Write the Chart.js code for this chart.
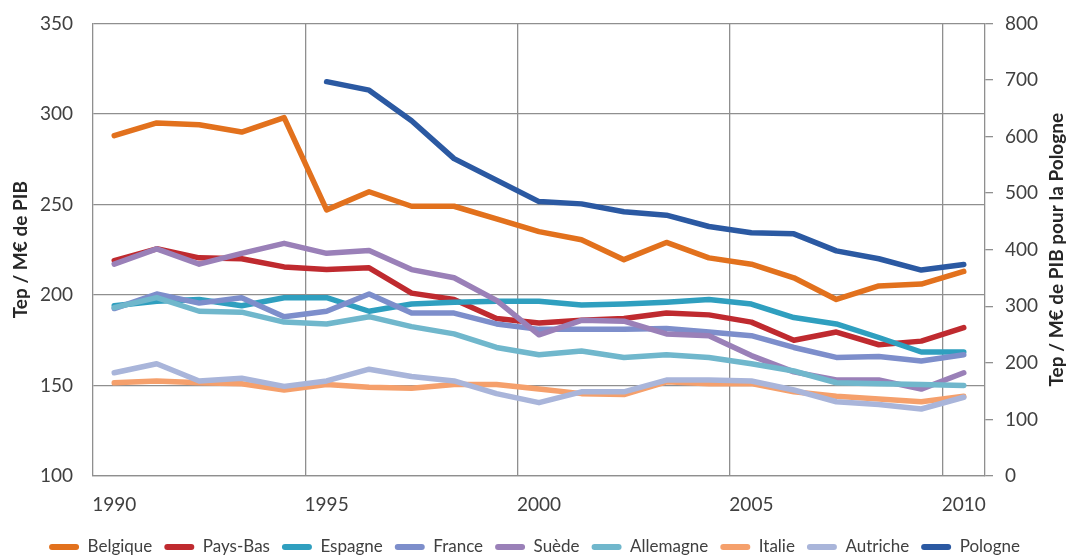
<!DOCTYPE html>
<html lang="fr">
<head>
<meta charset="UTF-8">
<title>Intensité énergétique</title>
<script src="https://cdn.jsdelivr.net/npm/chart.js@4"></script>
<style>
  body { margin: 0; background: #fff; }
  .chart-box { position: relative; width: 1069px; height: 555px; }
</style>
</head>
<body>
<div class="chart-box"><canvas id="intensityChart"></canvas></div>
<script>
const years = ['1990', '1991', '1992', '1993', '1994', '1995', '1996', '1997', '1998', '1999', '2000',
               '2001', '2002', '2003', '2004', '2005', '2006', '2007', '2008', '2009', '2010'];

const countries = ['Belgique', 'Pays-Bas', 'Espagne', 'France', 'Suède', 'Allemagne', 'Italie', 'Autriche', 'Pologne'];

// left axis (Tep / M€ de PIB)
const belgique  = [288, 295, 294, 290, 298, 247, 257, 249, 249, 242, 235, 230.5, 219.5, 229, 220.5, 217, 209.5, 197.5, 205, 206, 213];
const paysBas   = [219, 225.5, 220.5, 220, 215.5, 214, 215, 201, 197.5, 187, 184.5, 186, 187, 190, 189, 185, 175, 179.5, 172.5, 174.5, 182];
const espagne   = [194, 196.5, 197.5, 194, 198.5, 198.5, 191, 195, 196, 196.5, 196.5, 194.5, 195, 196, 197.5, 195, 187.5, 184, 176.5, 168.5, 168.5];
const france    = [192.5, 200.5, 195.5, 198.5, 188, 191, 200.5, 190, 190, 184, 181, 181, 181, 181.5, 179.5, 177.5, 171, 165.5, 166, 163.5, 167];
const suede     = [217, 225.5, 217, 223, 228.5, 223, 224.5, 214, 209.5, 197, 178, 186, 185.5, 178.5, 177.5, 166.5, 157.5, 153, 153, 148, 157];
const allemagne = [193, 198.5, 191, 190.5, 185, 184, 188, 182.5, 178.5, 171, 167, 169, 165.5, 167, 165.5, 162, 158, 151.5, 151, 150.5, 150];
const italie    = [151.5, 152.5, 151.5, 151, 147.5, 150.5, 149, 148.5, 150.5, 150.5, 148, 145.5, 145, 152, 151, 151, 146.5, 144, 142.5, 141, 144];
const autriche  = [157, 162, 152.5, 154, 149.5, 152.5, 159, 155, 152.5, 145.5, 140.5, 146.5, 146.5, 153, 153, 152.5, 147.5, 141, 139.5, 137, 143.5];
// right axis (Pologne)
const pologne   = [null, null, null, null, null, 697, 682, 628, 561, 523, 485, 481, 467, 461, 441, 430, 428, 398, 384, 364, 374];

const leftTicks = { min: 100, max: 350, step: 50 };
const rightTicks = { min: 0, max: 800, step: 100 };
const leftAxisTitle = 'Tep / M€ de PIB';
const rightAxisTitle = 'Tep / M€ de PIB pour la Pologne';

const colors = ['#e2711d', '#bf2a2f', '#2f9fbf', '#7d8ecb', '#9a80b8', '#70b7cc', '#f5a06c', '#a9b5da', '#2b59a2'];
const gridGray = '#8f8f8f';
const textGray = '#404040';
const titleColor = '#262626';

Chart.defaults.font.family = 'Lato, "Liberation Sans", sans-serif';

const allSeries = [belgique, paysBas, espagne, france, suede, allemagne, italie, autriche, pologne];

const datasets = allSeries.map((values, i) => ({
    label: countries[i],
    data: values,
    borderColor: colors[i],
    backgroundColor: colors[i],
    borderWidth: 5.5,
    borderJoinStyle: 'round',
    borderCapStyle: 'round',
    pointRadius: 0,
    pointHoverRadius: 0,
    tension: 0,
    yAxisID: countries[i] === 'Pologne' ? 'y1' : 'y',
    order: allSeries.length - 1 - i   // later series on top, like Excel
}));

// right axis title reads bottom to top in the original
const rightTitlePlugin = {
    id: 'rightTitle',
    afterDraw(chart) {
        const ctx = chart.ctx;
        const area = chart.chartArea;
        ctx.save();
        ctx.translate(1057, (area.top + area.bottom) / 2);
        ctx.rotate(-Math.PI / 2);
        ctx.font = 'bold 19px ' + Chart.defaults.font.family;
        ctx.fillStyle = titleColor;
        ctx.textAlign = 'center';
        ctx.textBaseline = 'middle';
        ctx.fillText(rightAxisTitle, 0, 0);
        ctx.restore();
    }
};

new Chart(document.getElementById('intensityChart'), {
    type: 'line',
    data: { labels: years, datasets: datasets },
    plugins: [rightTitlePlugin],
    options: {
        responsive: true,
        maintainAspectRatio: false,
        animation: false,
        layout: { padding: { top: 10, left: 0, right: 0, bottom: 0 } },
        plugins: {
            tooltip: { enabled: false },
            legend: {
                position: 'bottom',
                maxHeight: 28.5,
                labels: {
                    color: textGray,
                    font: { size: 17 },
                    boxWidth: 30,
                    boxHeight: 6,
                    padding: 12,
                    useBorderRadius: true,
                    borderRadius: 3,
                    sort: (a, b) => a.datasetIndex - b.datasetIndex,
                    generateLabels(chart) {
                        const items = Chart.defaults.plugins.legend.labels.generateLabels(chart);
                        items.forEach(item => {
                            item.fillStyle = item.strokeStyle;
                            item.lineWidth = 0;
                        });
                        return items;
                    }
                }
            }
        },
        scales: {
            x: {
                offset: true,
                grid: {
                    offset: true,
                    drawTicks: false,
                    lineWidth: 1.3,
                    color: ctx => (ctx.index > 0 && ctx.index % 5 === 0) ? gridGray : 'transparent'
                },
                border: { display: true, color: gridGray, width: 1.3 },
                ticks: {
                    autoSkip: false,
                    maxRotation: 0,
                    padding: 17,
                    color: textGray,
                    font: { size: 19 },
                    callback: (value, index) => index % 5 === 0 ? years[index] : ''
                },
                afterFit(scale) { scale.height = 50.5; }
            },
            y: {
                position: 'left',
                min: leftTicks.min,
                max: leftTicks.max,
                ticks: { stepSize: leftTicks.step, padding: 0, color: textGray, font: { size: 19 } },
                // invisible tick marks give the label gap without extra top padding
                grid: { color: gridGray, lineWidth: 1.3, drawTicks: true, tickLength: 20, tickColor: 'transparent' },
                border: { display: true, color: gridGray, width: 1.3 },
                title: {
                    display: true,
                    text: leftAxisTitle,
                    color: titleColor,
                    font: { size: 19, weight: 'bold' },
                    padding: { top: 9, bottom: 0 }
                },
                afterFit(scale) { scale.width = 93; }
            },
            y1: {
                position: 'right',
                min: rightTicks.min,
                max: rightTicks.max,
                ticks: { stepSize: rightTicks.step, padding: 12, color: textGray, font: { size: 19 } },
                grid: { drawOnChartArea: false, drawTicks: true, tickLength: 8, color: gridGray, lineWidth: 1.3 },
                border: { display: true, color: gridGray, width: 1.3 },
                afterFit(scale) { scale.width = 84; }
            }
        }
    }
});
</script>
</body>
</html>
